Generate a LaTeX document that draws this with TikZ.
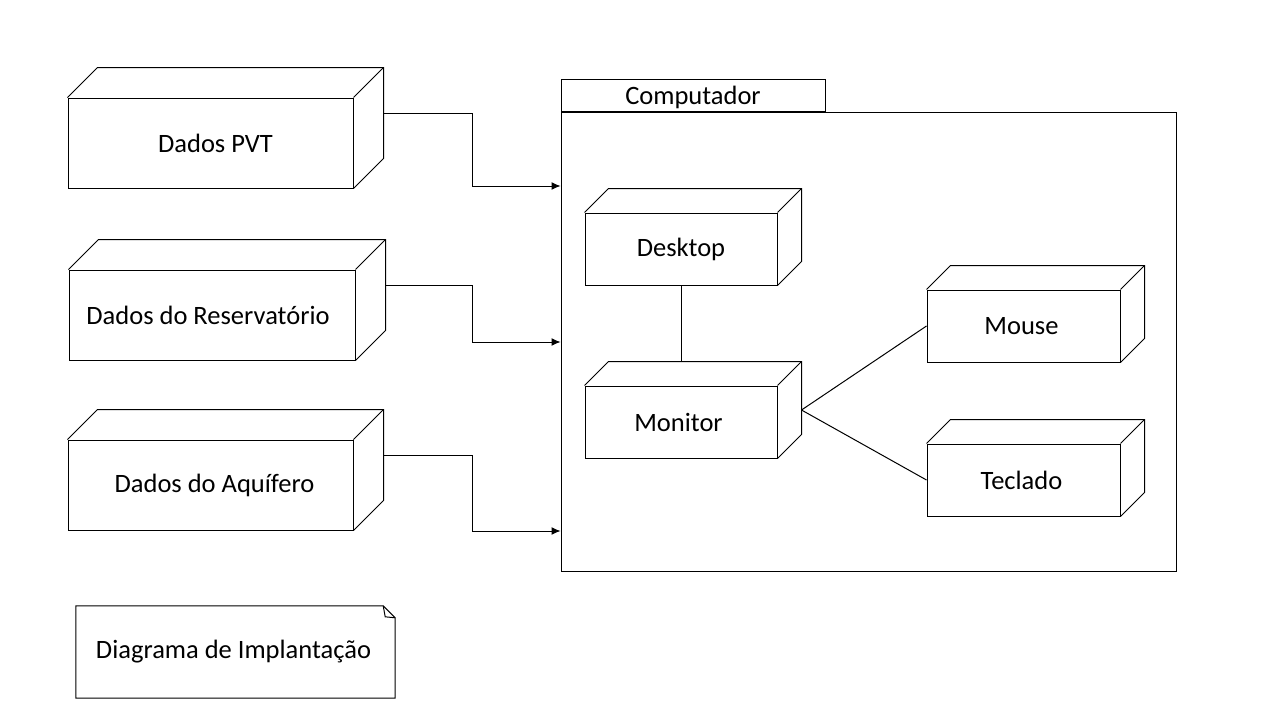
\documentclass[tikz,border=0pt]{standalone}
\usepackage{fontspec}
\setmainfont{Carlito}
\usetikzlibrary{arrows.meta,calc}
\tikzset{
  frontbox/.style={draw, line width=1pt, inner sep=0pt, minimum width=#1},
  ln/.style={line width=1pt},
  arr/.style={line width=1pt, -{Latex[length=9pt,width=8pt]}},
}
\newcommand{\mythreed}[2]{%
  \draw[ln] (#1.north west) -- ++(#2,-#2) -- ($(#1.north east)+(#2,-#2)$) -- ($(#1.south east)+(#2,-#2)$) -- (#1.south east);
  \draw[ln] (#1.north east) -- ++(#2,-#2);
}
\begin{document}
\begin{tikzpicture}[x=1pt,y=-1pt,font=\fontsize{26.5}{31}\selectfont]
\useasboundingbox[fill=white] (0,0) rectangle (1280,720);

% left data nodes
\node[frontbox=285pt, minimum height=90pt] (pvt) at (210.5,143) {\hspace*{10pt}Dados PVT};
\mythreed{pvt}{30}
\node[frontbox=286pt, minimum height=90pt] (res) at (212,315) {Dados do Reservatório\hspace*{8pt}};
\mythreed{res}{30}
\node[frontbox=285pt, minimum height=90pt] (aq) at (210.5,485) {\hspace*{8pt}Dados do Aquífero};
\mythreed{aq}{30}

% computer frame
\node[draw, line width=1pt, inner sep=0pt, minimum width=615pt, minimum height=459pt] (comp) at (868.5,341.5) {};
\node[draw, line width=1pt, inner sep=0pt, minimum width=264pt, minimum height=32pt, text depth=0pt, anchor=south west] (tab) at (comp.north west) {Computador};

% inner nodes
\node[frontbox=192pt, minimum height=72pt] (desk) at (681,249) {Desktop};
\mythreed{desk}{24}
\node[frontbox=192pt, minimum height=72pt] (mon) at (681,422) {Monitor\hspace*{5pt}};
\mythreed{mon}{24}
\node[frontbox=193pt, minimum height=72pt] (mouse) at (1023.5,326) {Mouse\hspace*{4pt}};
\mythreed{mouse}{24}
\node[frontbox=193pt, minimum height=72pt] (tec) at (1023.5,480) {Teclado\hspace*{4pt}};
\mythreed{tec}{24}

% connectors
\coordinate (pvtb) at ($(pvt.east)+(30,-30)$);
\coordinate (resb) at ($(res.east)+(30,-30)$);
\coordinate (aqb) at ($(aq.east)+(30,-30)$);
\draw[arr] (pvtb) -| (472,186) -- (comp.west |- 472,186);
\draw[arr] (resb) -| (472,342) -- (comp.west |- 472,342);
\draw[arr] (aqb) -| (472,531) -- (comp.west |- 472,531);

\coordinate (monr) at ($(mon.east)+(24,-12)$);
\draw[ln] (desk.south) -- ($(mon.north)+(0,-24)$);
\draw[ln] (monr) -- (mouse.west);
\draw[ln] (monr) -- (tec.west);

% note
\node[inner sep=0pt, minimum width=319pt, minimum height=92pt] (note) at (235.5,652) {Diagrama de Implantação\hspace*{4pt}};
\draw[ln] (note.north west) -- ($(note.north east)+(-12,0)$) -- ($(note.north east)+(0,12)$) -- (note.south east) -- (note.south west) -- cycle;
\draw[ln] ($(note.north east)+(-12,0)$) -- ($(note.north east)+(-10,11)$) -- ($(note.north east)+(0,12)$);
\end{tikzpicture}
\end{document}
